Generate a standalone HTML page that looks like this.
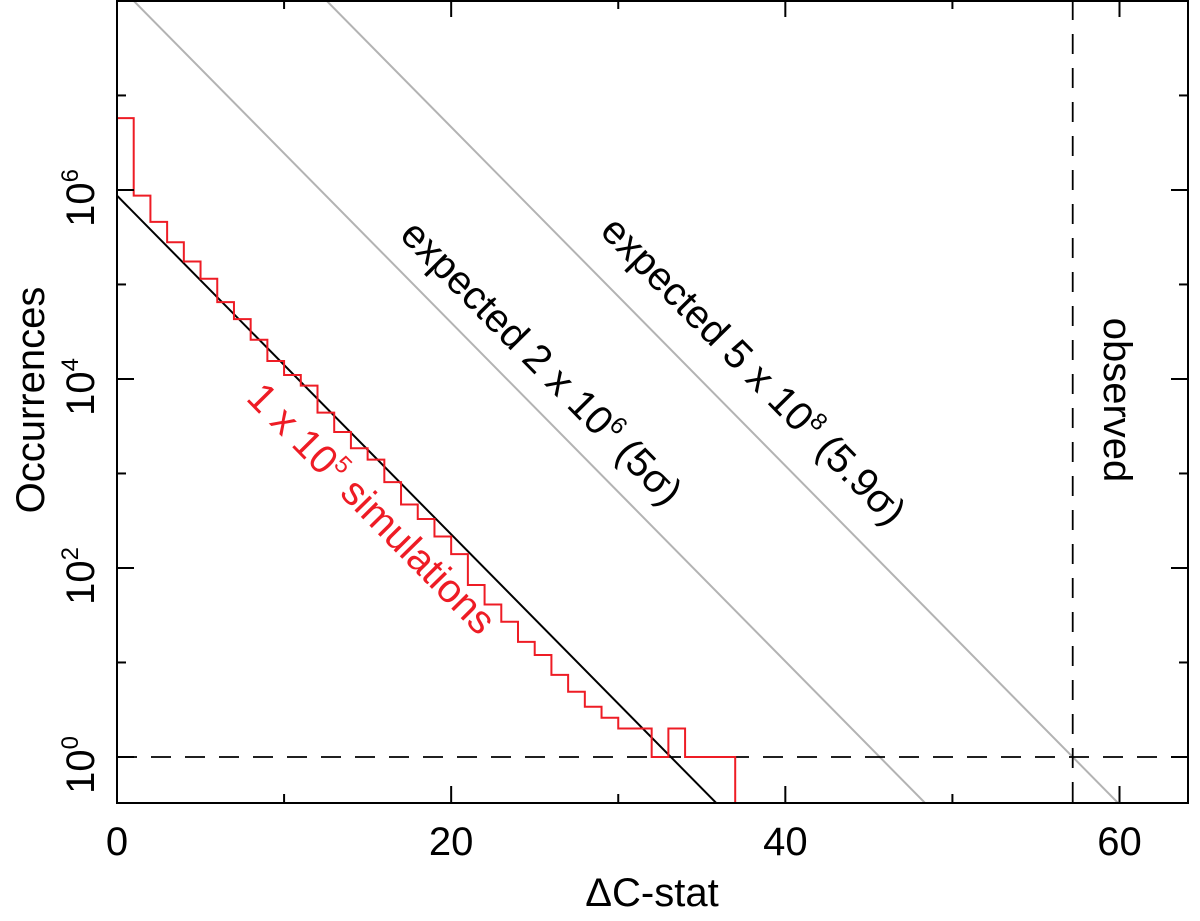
<!DOCTYPE html>
<html><head><meta charset="utf-8"><style>
html,body{margin:0;padding:0;background:#fff;width:1200px;height:921px;overflow:hidden;}
svg{display:block;font-family:"Liberation Sans",Helvetica,Arial,sans-serif;}
</style></head><body>
<svg id="chart" width="1200" height="921" viewBox="0 0 1200 921" xmlns="http://www.w3.org/2000/svg">
<g id="marks"></g>
<g id="axes"></g>
<text transform="translate(44,400) rotate(-90)" text-anchor="middle" font-size="40">Occurrences</text>
<text x="652" y="906" text-anchor="middle" font-size="40">ΔC-stat</text>
<text transform="translate(532,372) rotate(45.4)" text-anchor="middle" font-size="40">expected 2 x 10<tspan font-size="24" dy="-16">6</tspan><tspan dy="16"> (5σ)</tspan></text>
<text transform="translate(744,380) rotate(45.4)" text-anchor="middle" font-size="40">expected 5 x 10<tspan font-size="24" dy="-16">8</tspan><tspan dy="16"> (5.9σ)</tspan></text>
<text transform="translate(362,518) rotate(45.4)" text-anchor="middle" font-size="40" fill="#ee1c25">1 x 10<tspan font-size="24" dy="-16">5</tspan><tspan dy="16"> simulations</tspan></text>
<text transform="translate(1104,400) rotate(90)" text-anchor="middle" font-size="40">observed</text>
</svg>
<script>
// Histogram: occurrences per unit-width ΔC-stat bin starting at 0
const binStarts = [0,1,2,3,4,5,6,7,8,9,10,11,12,13,14,15,16,17,18,19,20,21,22,23,24,25,26,27,28,29,30,31,32,33,34,35,36];
const counts = [5.75e6,8.7e5,4.6e5,2.8e5,1.75e5,1.15e5,6.5e4,4.3e4,2.6e4,1.55e4,1.1e4,8.5e3,4.4e3,2.75e3,1.85e3,1.4e3,810,470,330,215,140,66,41,27,16.5,12,7.4,4.9,3.4,2.6,2,2,1,2,1,1,1];
// Model lines: log10(N) = intercept + slope * x
const modelIntercepts = [5.94, 8.18, 10.25];
const modelSlope = -0.1792;
const observedX = 57.2;
const xTicksMajor = [0,20,40,60];
const xTicksMinor = [10,30,50];
const yTicksMajor = [0,2,4,6];
const yTicksMinor = [-1,1,3,5,7];

const L=117,R=1188,T=0,B=803;
const xMin=0,xMax=64.1,yMin=-0.487,yMax=8.01;
const X=v=>L+(v-xMin)/(xMax-xMin)*(R-L);
const Y=lg=>B-(lg-yMin)/(yMax-yMin)*(B-T);
const NS="http://www.w3.org/2000/svg";
const marks=document.getElementById('marks'), axes=document.getElementById('axes');
function mk(tag,attrs,parent){const e=document.createElementNS(NS,tag);for(const k in attrs)e.setAttribute(k,attrs[k]);parent.appendChild(e);return e;}

const cp=mk('clipPath',{id:'clip'},marks);mk('rect',{x:L,y:T,width:R-L,height:B-T},cp);
const g=mk('g',{'clip-path':'url(#clip)'},marks);

modelIntercepts.forEach((b,i)=>{
  const l=mk('line',{x1:X(xMin),y1:Y(b+modelSlope*xMin),x2:X(xMax),y2:Y(b+modelSlope*xMax),stroke:i===0?'#000':'#b3b3b3','stroke-width':2},g);
  
  
});

const hl=mk('line',{x1:L,y1:Y(0),x2:R,y2:Y(0),stroke:'#000','stroke-width':1.8,'stroke-dasharray':'20,14'},g);


const vl=mk('line',{x1:X(observedX),y1:T,x2:X(observedX),y2:B,stroke:'#000','stroke-width':1.8,'stroke-dasharray':'20,14'},g);



let d='M'+X(binStarts[0])+','+B;
binStarts.forEach((s,i)=>{const y=Y(Math.log10(counts[i]));d+=' L'+X(s)+','+y+' L'+X(s+1)+','+y;});
d+=' L'+X(binStarts[binStarts.length-1]+1)+','+B;
const h=mk('path',{d:d,fill:'none',stroke:'#ee1c25','stroke-width':2},g);



const fr=mk('rect',{x:L,y:T+1,width:R-L,height:B-T-1,fill:'none',stroke:'#000','stroke-width':2},axes);



xTicksMajor.forEach(v=>{
  mk('line',{x1:X(v),y1:B,x2:X(v),y2:B-17,stroke:'#000','stroke-width':2},axes);
  mk('line',{x1:X(v),y1:T,x2:X(v),y2:T+17,stroke:'#000','stroke-width':2},axes);
  const t=mk('text',{x:X(v),y:B+52,'text-anchor':'middle','font-size':40},axes);
  t.textContent=v;
  
  
});
xTicksMinor.forEach(v=>{
  mk('line',{x1:X(v),y1:B,x2:X(v),y2:B-9,stroke:'#000','stroke-width':2},axes);
  mk('line',{x1:X(v),y1:T,x2:X(v),y2:T+9,stroke:'#000','stroke-width':2},axes);
});
yTicksMajor.forEach(v=>{
  mk('line',{x1:L,y1:Y(v),x2:L+17,y2:Y(v),stroke:'#000','stroke-width':2},axes);
  mk('line',{x1:R,y1:Y(v),x2:R-17,y2:Y(v),stroke:'#000','stroke-width':2},axes);
  const t=mk('text',{transform:'translate(94,'+(Y(v)+8)+') rotate(-90)','text-anchor':'middle','font-size':40},axes);
  t.textContent='10';
  const s=mk('tspan',{'font-size':24,dy:-16},t);s.textContent=v;
  
  
});
yTicksMinor.forEach(v=>{
  if(v<yMin)return;
  mk('line',{x1:L,y1:Y(v),x2:L+9,y2:Y(v),stroke:'#000','stroke-width':2},axes);
  mk('line',{x1:R,y1:Y(v),x2:R-9,y2:Y(v),stroke:'#000','stroke-width':2},axes);
});
</script>
</body></html>
